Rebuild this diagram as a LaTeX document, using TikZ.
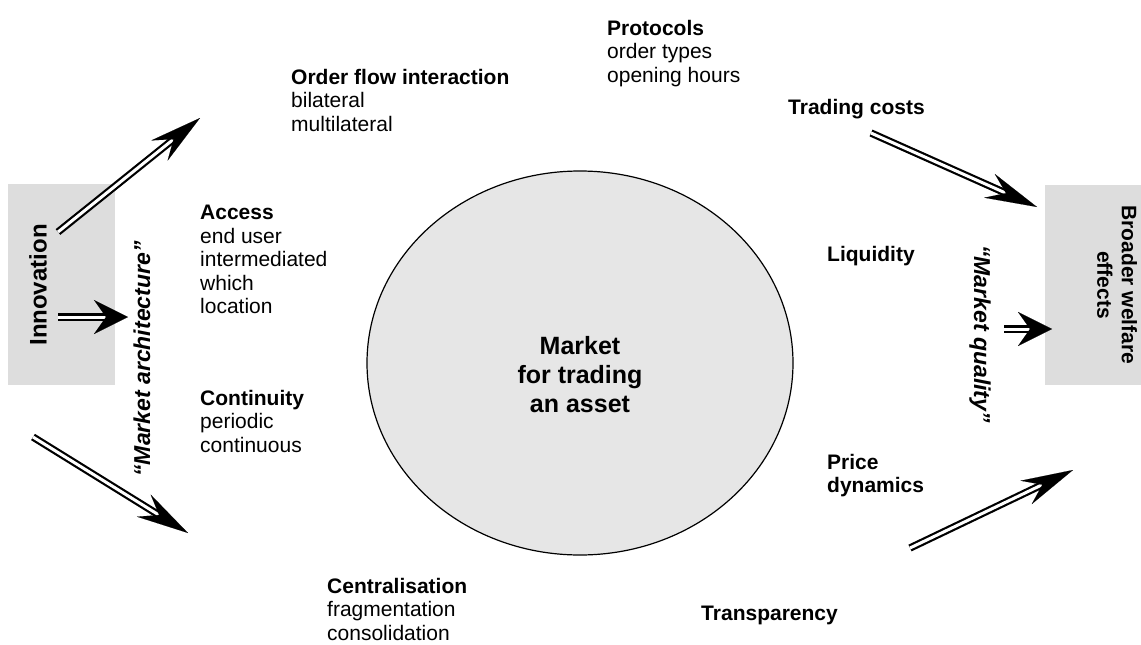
\documentclass[tikz,border=0pt]{standalone}
\usepackage{fontspec}
\setmainfont{Liberation Sans}
\usetikzlibrary{arrows.meta,calc,shapes.geometric}
\definecolor{boxgray}{HTML}{DDDDDD}
\definecolor{circgray}{HTML}{E6E6E6}
\tikzset{
  lbl/.style={anchor=north west, inner sep=0pt, align=left, font=\fontsize{21}{23.5}\selectfont},
  graybox/.style={fill=boxgray, draw=none},
  shaftbase/.style={draw=black, line width=2.2pt, double=white, double distance=3pt},
  shaftd/.style={shaftbase, shorten >=31pt},
  shafth/.style={shaftbase, shorten >=20pt},
  tipd/.style={line width=0.1pt, -{Stealth[length=52pt,width=26pt,inset=18pt]}},
  tiph/.style={line width=0.1pt, -{Stealth[length=34pt,width=34pt,inset=12pt]}},
  quote/.style={inner sep=0pt, font=\fontsize{23}{26}\selectfont\bfseries\itshape},
}
\newcommand\diagarrow[2]{\draw[shaftd] (#1) -- (#2); \draw[tipd] ($(#2)!3pt!(#1)$) -- (#2);}
\newcommand\horzarrow[2]{\draw[shafth] (#1) -- (#2); \draw[tiph] ($(#2)!3pt!(#1)$) -- (#2);}
\begin{document}
\begin{tikzpicture}[x=1pt,y=-1pt]
\useasboundingbox (0,0) rectangle (1141,645);
% boxes
\fill[graybox] (8,184) rectangle (115,385);
\fill[graybox] (1045,185) rectangle (1141,385);
\node[rotate=90, inner sep=0pt, font=\fontsize{24}{27}\selectfont\bfseries] (innov) at (38,285) {Innovation};
\node[rotate=-90, inner sep=0pt, align=center, font=\fontsize{21}{24.5}\selectfont\bfseries] (broad) at (1117,285) {Broader welfare\\effects};
% circle
\node[ellipse, draw=black, line width=1.2pt, fill=circgray, minimum width=426pt, minimum height=384pt, inner sep=0pt] (mkt) at (580,363) {};
\node[align=center, inner sep=0pt, font=\fontsize{25}{29}\selectfont\bfseries] (mkttext) at (580,375) {Market\\for trading\\an asset};
% quotes
\node[quote, rotate=90] (arch) at (142,359) {“Market architecture”};
\node[quote, rotate=-90] (qual) at (980,334) {“Market quality”};
% labels
\node[lbl] (ofi) at (291,69) {\textbf{Order flow interaction}\\bilateral\\multilateral};
\node[lbl] (prot) at (607,20) {\textbf{Protocols}\\order types\\opening hours};
\node[lbl] (tc) at (788,99) {\textbf{Trading costs}};
\node[lbl] (acc) at (200,205) {\textbf{Access}\\end user\\intermediated\\which\\location};
\node[lbl] (cont) at (200,390) {\textbf{Continuity}\\periodic\\continuous};
\node[lbl] (cent) at (327,578) {\textbf{Centralisation}\\fragmentation\\consolidation};
\node[lbl, anchor=north east] (transp) at (838,606) {\textbf{Transparency}};
\node[lbl] (liq) at (827,246) {\textbf{Liquidity}};
\node[lbl] (pd) at (827,454) {\textbf{Price}\\\textbf{dynamics}};
% arrow end points
\coordinate (a1s) at (58,232);  \coordinate (a1e) at (200,118);
\coordinate (a2s) at (58,317);  \coordinate (a2e) at (128,317);
\coordinate (a3s) at (33,437);  \coordinate (a3e) at (188,533);
\coordinate (a4s) at (871,133); \coordinate (a4e) at (1037,207);
\coordinate (a5s) at (1004,329); \coordinate (a5e) at (1052,329);
\coordinate (a6s) at (910,548); \coordinate (a6e) at (1073,470);
\diagarrow{a1s}{a1e}
\horzarrow{a2s}{a2e}
\diagarrow{a3s}{a3e}
\diagarrow{a4s}{a4e}
\horzarrow{a5s}{a5e}
\diagarrow{a6s}{a6e}
\end{tikzpicture}
\end{document}
